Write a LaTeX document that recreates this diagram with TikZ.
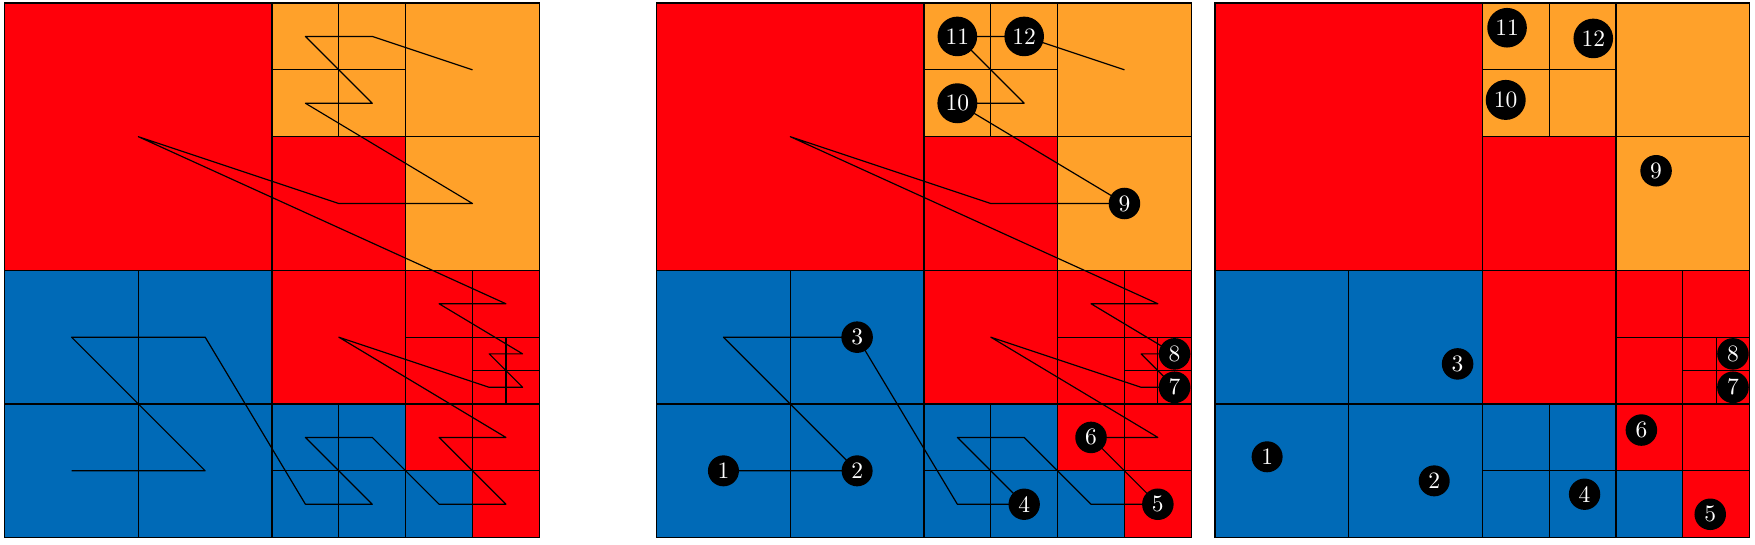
\documentclass[tikz,border=0pt]{standalone}
\usepackage{tikz}
\definecolor{qred}{RGB}{255,0,10}
\definecolor{qorange}{RGB}{255,161,42}
\definecolor{qblue}{RGB}{0,106,183}

\begin{document}
\begin{tikzpicture}
  \tikzstyle{cell}=[draw=black, line width=0.5pt]
  \tikzstyle{curve}=[black, line width=0.5pt, line join=round]
  \tikzstyle{num}=[circle, fill=black, text=white, inner sep=1.75pt]
  \useasboundingbox (-0.07,-0.109) rectangle (26.19,8.045);
  \foreach \dx in {0,9.755,18.11} {
    \foreach \x/\y/\w/\c in {0/4/4/qred, 4/7/1/qorange, 5/7/1/qorange, 4/6/1/qorange, 5/6/1/qorange,
      6/6/2/qorange, 4/4/2/qred, 6/4/2/qorange, 0/0/2/qblue, 2/0/2/qblue, 0/2/2/qblue, 2/2/2/qblue,
      4/2/2/qred, 6/3/1/qred, 7/3/1/qred, 6/2/1/qred, 7/2.5/0.5/qred, 7.5/2.5/0.5/qred, 7/2/0.5/qred,
      7.5/2/0.5/qred, 4/1/1/qblue, 5/1/1/qblue, 4/0/1/qblue, 5/0/1/qblue, 6/1/1/qred, 7/1/1/qred,
      6/0/1/qblue, 7/0/1/qred} {
      \draw[cell, fill=\c] ({\dx+\x},\y) rectangle ++(\w,\w);
    }
  }
  \foreach \pan/\dx in {a/0,b/9.755} {
    \foreach \px/\py [count=\i] in {1/1, 3/1, 1/3, 3/3, 4.5/0.5, 5.5/0.5, 4.5/1.5, 5.5/1.5, 6.5/0.5,
      7.5/0.5, 6.5/1.5, 7.5/1.5, 5/3, 7.25/2.25, 7.75/2.25, 7.25/2.75, 7.75/2.75, 6.5/3.5, 7.5/3.5,
      2/6, 5/5, 7/5, 4.5/6.5, 5.5/6.5, 4.5/7.5, 5.5/7.5, 7/7} {
      \coordinate (\pan\i) at ({\dx+\px},\py);
    }
    \draw[curve] (\pan1) \foreach \i in {2,...,27} { -- (\pan\i) };
  }
  \foreach \n/\i in {1/1,2/2,3/4,4/6,5/10,6/11,7/15,8/17,9/22,10/23,11/25,12/26} {
    \node[num] (m\n) at (b\i) {\n};
  }
  \foreach \n/\x/\y in {1/0.78/1.21, 2/3.28/0.85, 3/3.63/2.60, 4/5.53/0.65, 5/7.41/0.35, 6/6.38/1.61,
    7/7.75/2.25, 8/7.75/2.75, 9/6.60/5.49, 10/4.35/6.55, 11/4.37/7.63, 12/5.66/7.47} {
    \node[num] (r\n) at ({18.11+\x},\y) {\n};
  }
\end{tikzpicture}
\end{document}
